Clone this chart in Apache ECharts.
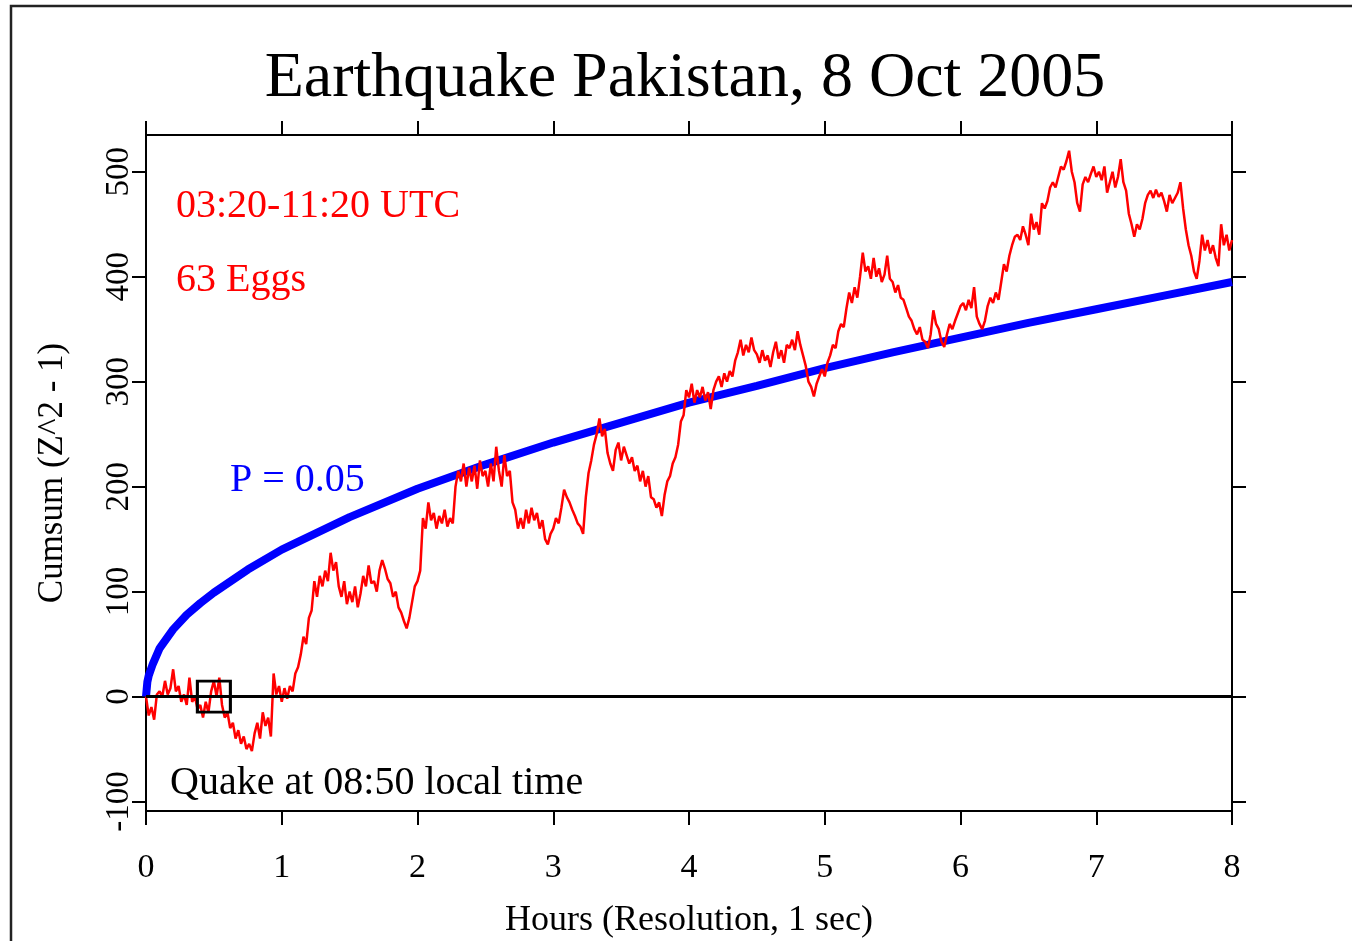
<!DOCTYPE html>
<html>
<head>
<meta charset="utf-8">
<title>Earthquake Pakistan, 8 Oct 2005</title>
<script src="https://cdn.jsdelivr.net/npm/echarts@6/dist/echarts.min.js"></script>
<style>
  html, body { margin: 0; padding: 0; background: #fff; }
  #chart { width: 1352px; height: 941px; }
</style>
</head>
<body>
<div id="chart"></div>
<script>
// red cumsum trace, one reading every 0.02 hours from 0 to 8
const redStepHours = 0.02;
const redValues = [
  0, -18, -10, -22, 2, 5, 0, 15, 2, 8,
  26, 5, 10, -5, 2, -8, 18, -5, 0, -12,
  -8, -20, -5, -15, 5, 15, 0, 18, -8, -20,
  -15, -30, -25, -40, -32, -45, -38, -50, -45, -52,
  -35, -25, -40, -15, -28, -20, -38, 22, 2, 10,
  -5, 8, -2, 10, 5, 22, 28, 40, 57, 50,
  75, 82, 110, 95, 115, 105, 120, 110, 137, 120,
  128, 105, 95, 110, 88, 100, 90, 105, 85, 98,
  115, 105, 125, 108, 110, 100, 120, 130, 122, 112,
  108, 95, 100, 85, 80, 72, 65, 75, 90, 105,
  110, 120, 170, 160, 185, 168, 175, 160, 172, 165,
  178, 162, 170, 165, 200, 215, 205, 222, 200, 218,
  205, 220, 198, 225, 210, 215, 200, 222, 205, 238,
  215, 200, 230, 210, 215, 185, 178, 160, 170, 160,
  178, 165, 180, 168, 175, 160, 168, 150, 145, 155,
  160, 170, 165, 180, 197, 190, 185, 178, 172, 165,
  162, 155, 190, 213, 225, 240, 250, 265, 248, 255,
  232, 222, 215, 235, 242, 225, 238, 230, 222, 228,
  215, 220, 205, 215, 200, 210, 190, 188, 180, 185,
  172, 192, 205, 210, 222, 228, 240, 262, 268, 292,
  285, 298, 280, 292, 285, 295, 282, 290, 274, 292,
  300, 305, 295, 308, 300, 310, 305, 320, 328, 340,
  325, 335, 328, 342, 330, 326, 318, 330, 320, 325,
  314, 328, 338, 322, 330, 318, 335, 332, 340, 330,
  348, 335, 325, 315, 300, 295, 286, 298, 305, 312,
  305, 318, 325, 335, 332, 348, 355, 352, 370, 385,
  375, 390, 380, 400, 423, 405, 410, 398, 418, 400,
  408, 395, 402, 420, 398, 395, 385, 392, 380, 378,
  370, 362, 358, 350, 345, 352, 340, 338, 332, 345,
  368, 355, 350, 338, 333, 345, 355, 350, 358, 365,
  372, 375, 368, 378, 370, 390, 362, 355, 350, 358,
  372, 380, 375, 385, 378, 395, 412, 405, 420, 430,
  438, 440, 435, 448, 440, 430, 460, 445, 452, 440,
  470, 465, 472, 485, 490, 485, 495, 505, 502, 510,
  520, 500, 490, 470, 462, 488, 495, 490, 498, 505,
  495, 500, 492, 505, 480, 490, 500, 485, 495, 512,
  490, 482, 460, 450, 438, 450, 445, 455, 470, 478,
  482, 475, 483, 476, 480, 472, 462, 478, 470, 475,
  480, 490, 465, 445, 430, 420, 405, 398, 415, 440,
  425, 435, 422, 430, 418, 410, 450, 430, 440, 425,
  435
];

// P = 0.05 envelope (blue)
const blueHours = [0, 0.01, 0.02, 0.05, 0.1, 0.2, 0.3, 0.4, 0.5, 0.75, 1, 1.5, 2, 2.5, 3, 3.5, 4, 4.5, 5, 5.5, 6, 6.5, 7, 7.5, 8];
const blueValues = [0, 14, 20, 31, 46, 64, 78, 89, 99, 121, 140, 171, 198, 221, 242, 261, 280, 296, 313, 328, 342, 356, 369, 382, 395];

// zero line and quake marker
const zeroHours = [0, 8];
const zeroValues = [0, 0];
const quakeHours = [0.5];
const quakeValues = [0];

const yTicks = [-100, 0, 100, 200, 300, 400, 500];

const serif = '"Liberation Serif", "DejaVu Serif", serif';

const redData = redValues.map((v, i) => [+(i * redStepHours).toFixed(2), v]);
const blueData = blueHours.map((h, i) => [h, blueValues[i]]);
const zeroData = zeroHours.map((h, i) => [h, zeroValues[i]]);
const quakeData = quakeHours.map((h, i) => [h, quakeValues[i]]);

const chart = echarts.init(document.getElementById('chart'), null, { renderer: 'canvas' });

const axisLine = { show: true, onZero: false, lineStyle: { color: '#000', width: 2 } };
const axisTick = { show: true, inside: false, length: 14, lineStyle: { color: '#000', width: 2 } };

chart.setOption({
  animation: false,
  backgroundColor: '#fff',
  grid: {
    left: 146, right: 120, top: 135, bottom: 130,
    containLabel: false, outerBoundsMode: 'none',
  },
  xAxis: [
    {
      type: 'value', position: 'bottom', min: 0, max: 8, interval: 1,
      axisLine, axisTick,
      splitLine: { show: false },
      axisLabel: { color: '#000', fontFamily: serif, fontSize: 34, margin: 40 },
      name: 'Hours (Resolution, 1 sec)',
      nameLocation: 'middle', nameGap: 92,
      nameTextStyle: { color: '#000', fontFamily: serif, fontSize: 36 },
    },
    {
      type: 'value', position: 'top', min: 0, max: 8, interval: 1,
      axisLine, axisTick,
      splitLine: { show: false },
      axisLabel: { show: false },
    },
  ],
  yAxis: [
    {
      type: 'value', position: 'left', min: -109, max: 535,
      axisLine,
      axisTick: Object.assign({}, axisTick, { customValues: yTicks }),
      splitLine: { show: false },
      axisLabel: {
        customValues: yTicks, rotate: 90, color: '#000',
        fontFamily: serif, fontSize: 33, margin: 10,
      },
      name: 'Cumsum (Z^2 - 1)',
      nameLocation: 'middle', nameRotate: 90, nameGap: 76,
      nameTextStyle: { color: '#000', fontFamily: serif, fontSize: 35 },
    },
    {
      type: 'value', position: 'right', min: -109, max: 535,
      axisLine,
      axisTick: Object.assign({}, axisTick, { customValues: yTicks }),
      splitLine: { show: false },
      axisLabel: { show: false },
    },
  ],
  series: [
    {
      name: 'P = 0.05', type: 'line', data: blueData,
      showSymbol: false, symbol: 'none', smooth: false,
      lineStyle: { color: '#0000ff', width: 8 },
      z: 2,
    },
    {
      name: 'Cumsum', type: 'line', data: redData,
      showSymbol: false, symbol: 'none',
      lineStyle: { color: '#ff0000', width: 2.5 },
      z: 3,
    },
    {
      name: 'zero', type: 'line', data: zeroData,
      showSymbol: false, symbol: 'none',
      lineStyle: { color: '#000', width: 3 },
      z: 4,
    },
    {
      name: 'Quake', type: 'scatter', data: quakeData,
      symbol: 'rect', symbolSize: [33, 31],
      itemStyle: { color: 'rgba(0,0,0,0)', borderColor: '#000', borderWidth: 3, opacity: 1 },
      z: 5,
    },
  ],
  graphic: [
    {
      type: 'rect', silent: true,
      shape: { x: 11, y: 6, width: 1400, height: 1000 },
      style: { fill: 'none', stroke: '#222', lineWidth: 2.5 },
    },
    {
      type: 'text', x: 685, y: 79,
      style: { text: 'Earthquake Pakistan, 8 Oct 2005', fill: '#000', font: '64px ' + serif, align: 'center', verticalAlign: 'middle' },
    },
    {
      type: 'text', x: 176, y: 206,
      style: { text: '03:20-11:20 UTC', fill: '#ff0000', font: '40px ' + serif, align: 'left', verticalAlign: 'middle' },
    },
    {
      type: 'text', x: 176, y: 280,
      style: { text: '63 Eggs', fill: '#ff0000', font: '40px ' + serif, align: 'left', verticalAlign: 'middle' },
    },
    {
      type: 'text', x: 230, y: 480,
      style: { text: 'P = 0.05', fill: '#0000ff', font: '40px ' + serif, align: 'left', verticalAlign: 'middle' },
    },
    {
      type: 'text', x: 170, y: 783,
      style: { text: 'Quake at 08:50 local time', fill: '#000', font: '40px ' + serif, align: 'left', verticalAlign: 'middle' },
    },
  ],
});
</script>
</body>
</html>
